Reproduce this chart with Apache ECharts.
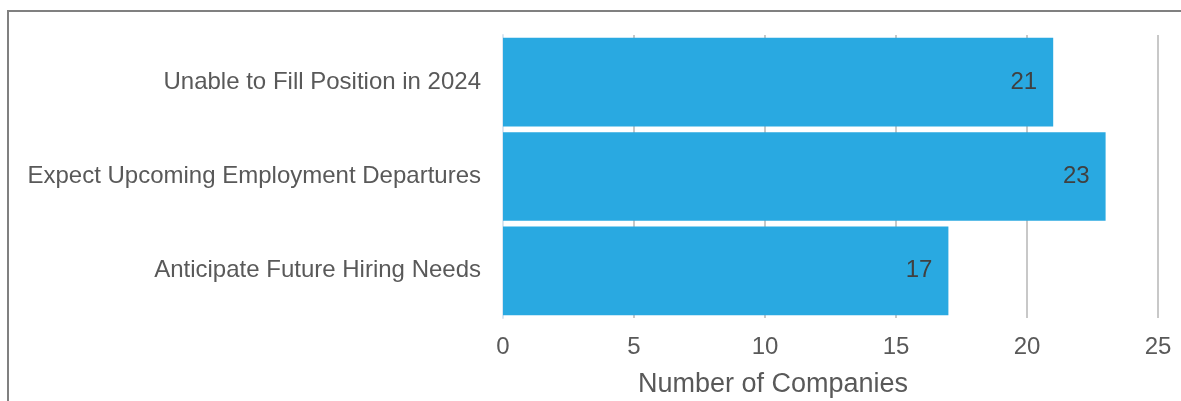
<!DOCTYPE html>
<html>
<head>
<meta charset="UTF-8">
<title>Number of Companies</title>
<style>
  body { margin: 0; background: #fff; }
  #frame { position: absolute; left: 7px; top: 10px; width: 1174px; height: 391px;
           border-left: 2px solid #808080; border-top: 2px solid #808080; }
  #main { position: absolute; left: 0; top: 0; width: 1181px; height: 401px; }
</style>
</head>
<body>
<div id="frame"></div>
<div id="main"></div>
<script src="https://cdn.jsdelivr.net/npm/echarts@6/dist/echarts.min.js"></script>
<script>
// categories from bottom to top (ECharts draws the first one at the bottom)
var categories = ['Anticipate Future Hiring Needs', 'Expect Upcoming Employment Departures', 'Unable to Fill Position in 2024'];
var companies = [17, 23, 21];
var xTicks = [0, 5, 10, 15, 20, 25];
var xTitle = 'Number of Companies';

var myChart = echarts.init(document.getElementById('main'));

myChart.setOption({
    animation: false,
    grid: { left: 503, right: 23, top: 35, bottom: 83, containLabel: false },
    // axis title sits left of the plot centre in the original, so it is placed by hand
    graphic: [{
        type: 'text',
        x: 773,
        y: 385,
        style: {
            text: xTitle,
            fontFamily: 'Liberation Sans',
            fontSize: 27,
            fill: '#595959',
            textAlign: 'center',
            textVerticalAlign: 'middle'
        }
    }],
    xAxis: {
        type: 'value',
        min: xTicks[0],
        max: xTicks[xTicks.length - 1],
        interval: 5,
        axisLine: { show: false },
        axisTick: { show: false },
        axisLabel: { fontFamily: 'Liberation Sans', fontSize: 24, color: '#595959', margin: 17 },
        splitLine: { show: true, lineStyle: { color: '#c8c8c8', width: 2 } }
    },
    yAxis: {
        type: 'category',
        data: categories,
        axisLine: { show: true, lineStyle: { color: '#d9e6f2', width: 2 } },
        axisTick: { show: false },
        axisLabel: { fontFamily: 'Liberation Sans', fontSize: 24, color: '#595959', margin: 22 }
    },
    series: [{
        name: 'Companies',
        type: 'bar',
        data: companies,
        barCategoryGap: '6%',
        itemStyle: { color: '#29a9e1' },
        label: {
            show: true,
            position: 'insideRight',
            distance: 16,
            fontFamily: 'Liberation Sans',
            fontSize: 24,
            color: '#404040'
        }
    }]
});
</script>
</body>
</html>
